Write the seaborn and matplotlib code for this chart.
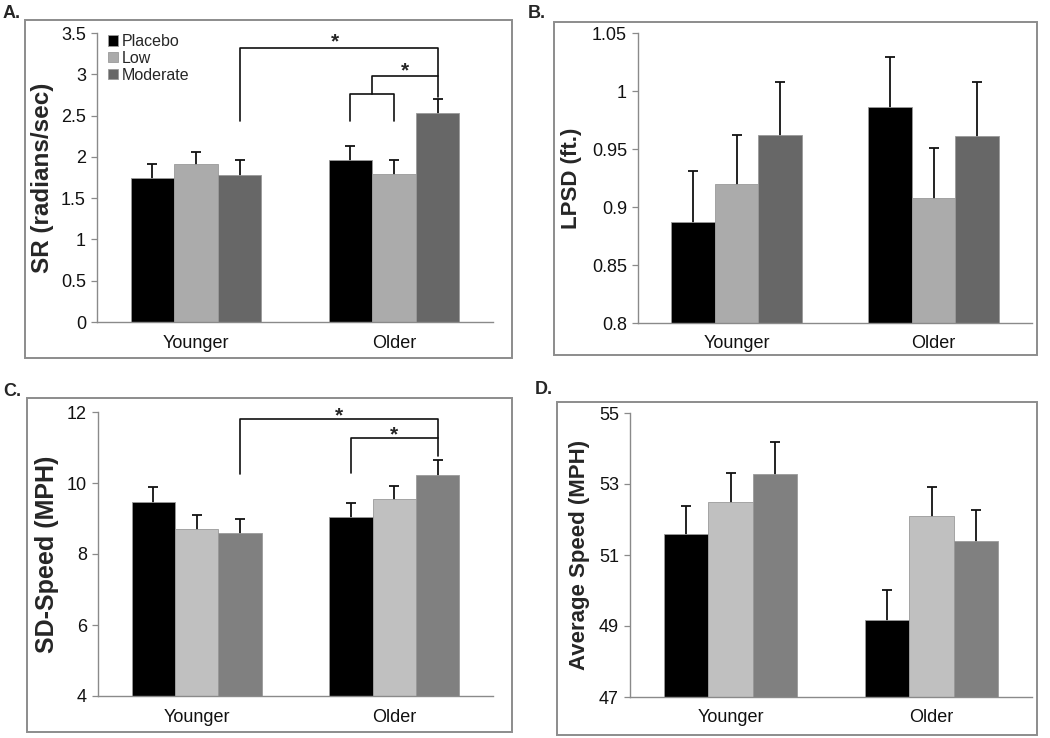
import numpy as np
import pandas as pd
import matplotlib
matplotlib.use("Agg")
import matplotlib.pyplot as plt
from matplotlib.patches import Rectangle
from matplotlib.ticker import FuncFormatter
import seaborn as sns

# ---------------- data ----------------
groups = ["Younger", "Older"]
doses = ["Placebo", "Low", "Moderate"]

sr_mean = {"Placebo": [1.74, 1.96], "Low": [1.91, 1.79], "Moderate": [1.78, 2.53]}
sr_err = {"Placebo": [0.17, 0.17], "Low": [0.15, 0.17], "Moderate": [0.18, 0.17]}

lpsd_mean = {"Placebo": [0.887, 0.986], "Low": [0.920, 0.908], "Moderate": [0.962, 0.961]}
lpsd_err = {"Placebo": [0.044, 0.043], "Low": [0.042, 0.043], "Moderate": [0.046, 0.047]}

sds_mean = {"Placebo": [9.47, 9.05], "Low": [8.70, 9.56], "Moderate": [8.58, 10.22]}
sds_err = {"Placebo": [0.42, 0.39], "Low": [0.40, 0.36], "Moderate": [0.42, 0.42]}

avg_mean = {"Placebo": [51.58, 49.18], "Low": [52.49, 52.09], "Moderate": [53.28, 51.40]}
avg_err = {"Placebo": [0.81, 0.84], "Low": [0.82, 0.82], "Moderate": [0.89, 0.88]}

ylabels = ["SR (radians/sec)", "LPSD (ft.)", "SD-Speed (MPH)", "Average Speed (MPH)"]
panel_letters = ["A.", "B.", "C.", "D."]
ylims = [(0, 3.5), (0.8, 1.05), (4, 12), (47, 55)]
ysteps = [0.5, 0.05, 2, 2]

# ---------------- style ----------------
sns.set_theme(style="white")
plt.rcParams["font.family"] = ["Liberation Sans", "DejaVu Sans"]

W, H = 1050, 738
fig = plt.figure(figsize=(W / 100, H / 100), dpi=100)

def px_axes(l, t, r, b):
    return fig.add_axes([l / W, 1 - b / H, (r - l) / W, (b - t) / H])

def px_box(l, t, r, b):
    fig.patches.append(Rectangle((l / W, 1 - b / H), (r - l) / W, (b - t) / H,
                                 transform=fig.transFigure, fill=False,
                                 edgecolor="#8c8c8c", linewidth=1.4))

axes_px = [(97, 33, 493, 322), (638, 33, 1032, 323), (98, 412, 493, 696), (630, 413, 1032, 697)]
boxes_px = [(25, 20, 512, 358), (554, 22, 1037, 355), (27, 398, 512, 732), (557, 402, 1037, 735)]
letter_px = [(3, 13), (528, 13), (3, 392), (535, 390)]
ylabel_fs = [17.5, 16, 18, 16]
ylabel_x = [43, 572, 47, 580]

pal_ab = ["#000000", "#ababab", "#676767"]
pal_cd = ["#000000", "#c0c0c0", "#808080"]

datasets = [(sr_mean, sr_err, pal_ab), (lpsd_mean, lpsd_err, pal_ab),
            (sds_mean, sds_err, pal_cd), (avg_mean, avg_err, pal_cd)]

axs = []
for k, (means, errs, pal) in enumerate(datasets):
    px_box(*boxes_px[k])
    ax = px_axes(*axes_px[k])
    axs.append(ax)
    rows = []
    for d in doses:
        for gi, g in enumerate(groups):
            rows.append({"group": g, "dose": d, "value": means[d][gi]})
    df = pd.DataFrame(rows)
    sns.barplot(data=df, x="group", y="value", hue="dose", order=groups, hue_order=doses,
                palette=pal, width=0.66, gap=0, errorbar=None, legend=False, ax=ax,
                edgecolor="#9a9a9a", linewidth=0.6, saturation=1, zorder=2)
    # error bars: symmetric, lower half hidden behind the bars
    for di, d in enumerate(doses):
        cont = ax.containers[di]
        xs = [p.get_x() + p.get_width() / 2 for p in cont.patches]
        ys = [p.get_height() for p in cont.patches]
        ax.errorbar(xs, ys, yerr=errs[d], fmt="none", ecolor="#111111",
                    elinewidth=1.3, capsize=3.5, capthick=1.3, zorder=1)
    lo, hi = ylims[k]
    ax.set_ylim(lo, hi)
    ax.set_xlim(-0.5, 1.5)
    ax.set_yticks(np.arange(lo, hi + ysteps[k] / 2, ysteps[k]))
    ax.yaxis.set_major_formatter(FuncFormatter(lambda v, p: ("%.2f" % v).rstrip("0").rstrip(".")))
    ax.set_xlabel("")
    ax.set_ylabel(ylabels[k], fontsize=ylabel_fs[k], fontweight="bold")
    ax.yaxis.label.set_verticalalignment("center")
    ax.yaxis.set_label_coords((ylabel_x[k] - axes_px[k][0]) / (axes_px[k][2] - axes_px[k][0]), 0.5)
    for s in ["top", "right"]:
        ax.spines[s].set_visible(False)
    for s in ["left", "bottom"]:
        ax.spines[s].set_color("#8a8a8a")
        ax.spines[s].set_linewidth(1.0)
        ax.spines[s].set_zorder(3)
    ax.tick_params(axis="y", direction="out", length=4, width=0.9, color="#8a8a8a",
                   labelsize=13, pad=4, left=True, labelcolor="#111111")
    ax.tick_params(axis="x", length=0, labelsize=13, pad=9, labelcolor="#111111")
    ax.set_facecolor("white")
    fig.text(letter_px[k][0] / W, 1 - letter_px[k][1] / H, panel_letters[k],
             fontsize=13, fontweight="bold", ha="left", va="center")

# legend on panel A
axA = axs[0]
axA.legend(axA.containers[:3], doses, loc="upper left", bbox_to_anchor=(0.0, 1.035),
           frameon=False, fontsize=11.5, handlelength=0.6, handleheight=0.6,
           handletextpad=0.25, labelspacing=0.12, borderaxespad=0.3)

def centers(ax, di):
    return [p.get_x() + p.get_width() / 2 for p in ax.containers[di].patches]

lk = dict(color="#111111", linewidth=1.2, zorder=4)
sk = dict(ha="center", va="bottom", fontsize=15, fontweight="bold")

# significance brackets panel A
xy_mod = centers(axA, 2)[0]
xo_pl, xo_lo, xo_mod = centers(axA, 0)[1], centers(axA, 1)[1], centers(axA, 2)[1]
axA.plot([xy_mod, xy_mod, xo_mod, xo_mod], [2.43, 3.32, 3.32, 2.72], **lk)
axA.plot([xo_pl, xo_pl, xo_lo, xo_lo], [2.43, 2.76, 2.76, 2.43], **lk)
xm = (xo_pl + xo_lo) / 2
axA.plot([xm, xm, xo_mod], [2.76, 2.98, 2.98], **lk)
axA.text((xy_mod + xo_mod) / 2 - 0.02, 3.28, "*", **sk)
axA.text((xm + xo_mod) / 2, 2.93, "*", **sk)

# significance brackets panel C
axC = axs[2]
xy_mod = centers(axC, 2)[0]
xo_pl, xo_mod = centers(axC, 0)[1], centers(axC, 2)[1]
axC.plot([xy_mod, xy_mod, xo_mod, xo_mod], [10.25, 11.80, 11.80, 10.77], **lk)
axC.plot([xo_pl, xo_pl, xo_mod], [10.27, 11.26, 11.26], **lk)
axC.text((xy_mod + xo_mod) / 2, 11.63, "*", **sk)
axC.text((xo_pl + xo_mod) / 2, 11.09, "*", **sk)

fig.savefig("out.png", dpi=100, facecolor="white")
